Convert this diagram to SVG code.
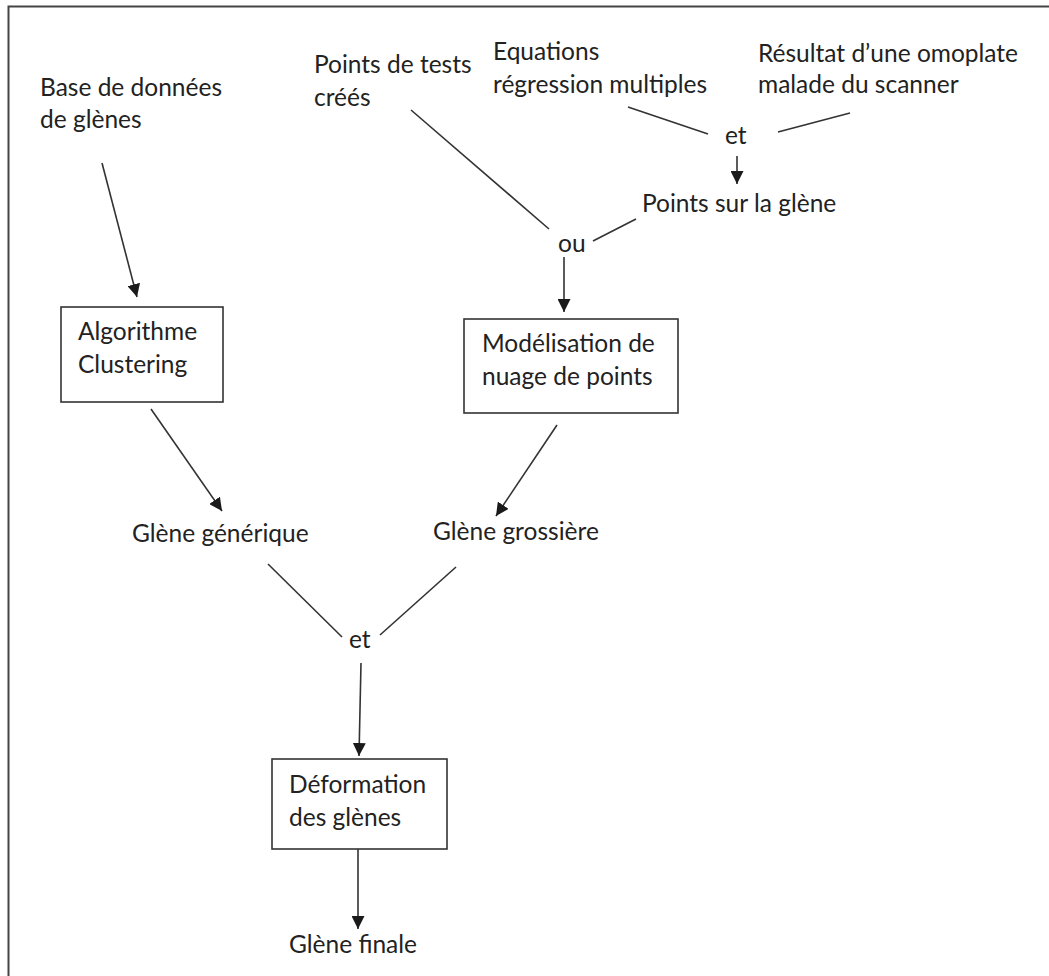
<svg xmlns="http://www.w3.org/2000/svg" width="1049" height="976" viewBox="0 0 1049 976">
<defs>
<marker id="arr" markerUnits="userSpaceOnUse" markerWidth="13" markerHeight="13" refX="12" refY="6" orient="auto" viewBox="0 0 12 12">
<path d="M0,0 L12,6 L0,12 z" fill="#1a1a1a"/>
</marker>
<style>
text{font-family:Lato,"Liberation Sans",Arial,sans-serif;font-size:24.5px;fill:#222}
.box{fill:#fff;stroke:#333;stroke-width:1.6}
.ln{stroke:#333;stroke-width:1.6;fill:none}
.ar{stroke:#333;stroke-width:1.6;fill:none;marker-end:url(#arr)}
</style>
</defs>
<rect x="0" y="0" width="1049" height="976" fill="#fff"/>
<path d="M8.5,1000 L8.5,6.5 L1060,6.5" fill="none" stroke="#444" stroke-width="2"/>
<g id="connectors">
<line class="ar" x1="102" y1="163" x2="137" y2="297"/>
<line class="ar" x1="151" y1="409" x2="222" y2="511"/>
<line class="ln" x1="411" y1="110" x2="549" y2="229"/>
<line class="ln" x1="628" y1="107" x2="708" y2="134"/>
<line class="ln" x1="778" y1="132" x2="850" y2="113"/>
<line class="ar" x1="737" y1="156" x2="737" y2="184"/>
<line class="ln" x1="593" y1="241" x2="636" y2="219"/>
<line class="ar" x1="564" y1="257" x2="564" y2="312"/>
<line class="ar" x1="557" y1="425" x2="496" y2="516"/>
<line class="ln" x1="268" y1="564" x2="342" y2="637"/>
<line class="ln" x1="380" y1="635" x2="456" y2="567"/>
<line class="ar" x1="361" y1="663" x2="359" y2="756"/>
<line class="ar" x1="358" y1="849" x2="358" y2="929"/>
</g>
<g id="base"><text x="40" y="96">Base de données</text><text x="40" y="128">de glènes</text></g>
<g id="points-tests"><text x="314" y="73">Points de tests</text><text x="314" y="106">créés</text></g>
<g id="equations"><text x="493" y="60">Equations</text><text x="493" y="93">régression multiples</text></g>
<g id="resultat"><text x="758" y="62">Résultat d’une omoplate</text><text x="758" y="93">malade du scanner</text></g>
<g id="et-top"><text x="725" y="144">et</text></g>
<g id="points-glene"><text x="642" y="212">Points sur la glène</text></g>
<g id="ou"><text x="558" y="252">ou</text></g>
<g id="algorithme"><rect class="box" x="61" y="307" width="162" height="95"/><text x="78" y="340">Algorithme</text><text x="78" y="373">Clustering</text></g>
<g id="modelisation"><rect class="box" x="464" y="319" width="214" height="94"/><text x="482" y="352">Modélisation de</text><text x="482" y="385">nuage de points</text></g>
<g id="glene-generique"><text x="132" y="542">Glène générique</text></g>
<g id="glene-grossiere"><text x="433" y="540">Glène grossière</text></g>
<g id="et-bottom"><text x="349" y="648">et</text></g>
<g id="deformation"><rect class="box" x="272" y="759" width="175" height="90"/><text x="289" y="793">Déformation</text><text x="289" y="826">des glènes</text></g>
<g id="glene-finale"><text x="289" y="953">Glène finale</text></g>
</svg>
